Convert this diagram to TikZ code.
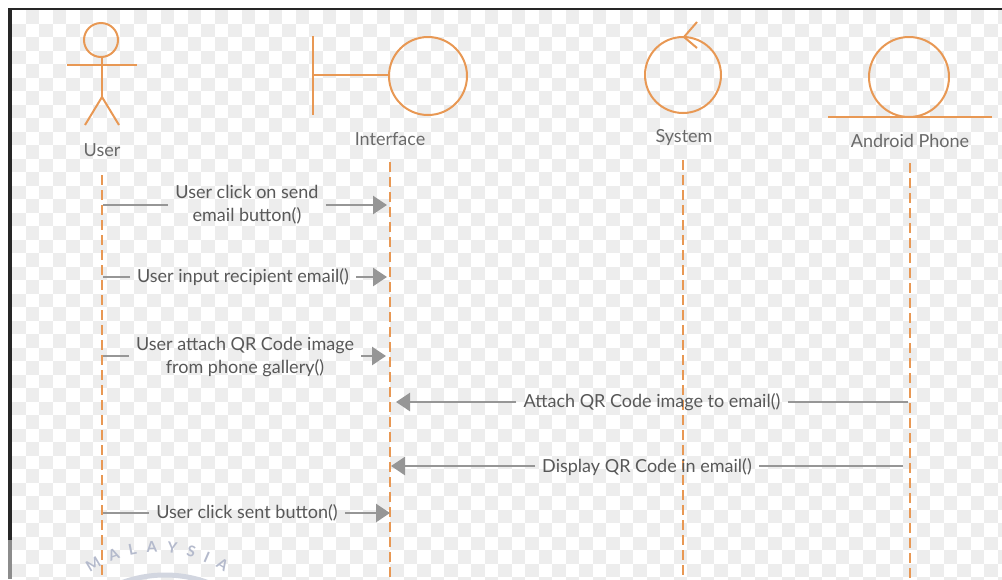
\documentclass[tikz,border=0pt]{standalone}
\usepackage{fontspec}
\setmainfont{Lato}
\usetikzlibrary{arrows.meta,decorations.text}
\definecolor{org}{RGB}{232,152,84}
\definecolor{arr}{RGB}{150,150,150}
\definecolor{txt}{RGB}{88,88,88}
\definecolor{chk}{RGB}{237,237,237}
\definecolor{wmk}{RGB}{180,186,204}
\begin{document}
\begin{tikzpicture}[x=1pt,y=-1pt,
  font=\fontsize{18}{23}\selectfont,
  actor/.style={draw=org,line width=2pt},
  life/.style={draw=org,line width=1.8pt,dash pattern=on 10pt off 5pt},
  msg/.style={draw=arr,line width=2.6pt},
  msgarrow/.style={msg,-{Triangle[length=14pt,width=18pt]}},
  lbl/.style={text=txt,align=center,inner xsep=7pt,inner ysep=1pt},
  head/.style={text=txt!90!white,inner sep=1pt}]
% background
\useasboundingbox (0,0) rectangle (1002,579);
\fill[white] (0,0) rectangle (1002,579);
\foreach \i in {0,...,73}{
  \foreach \j in {0,...,42}{
    \pgfmathtruncatemacro\chkodd{mod(\i+\j,2)}
    \ifnum\chkodd=1
      \fill[chk] ({12+13.5*\i},{10+13.5*\j}) rectangle ++(13.5,13.5);
    \fi
  }
}
\fill[white] (0,0) rectangle (1002,8);
\fill[white] (0,0) rectangle (8,579);
% screen border
\fill[black!85] (8,8) rectangle (1002,9.5);
\fill[black!85] (8,8) rectangle (12,540);
\fill[black!45] (8,540) rectangle (12,579);
% watermark
\draw[wmk!60!white,line width=5pt] (165,700) ++(245:125) arc (245:295:125);
\path[decorate,decoration={text along path,text align={fit to path},
  text={|\fontsize{15}{15}\bfseries\color{wmk}|MALAYSIA}}]
  (157,672) ++(236:120) arc (236:304:120);
% User actor
\draw[actor] (101,40) circle (17);
\draw[actor] (67,65) -- (137,65);
\draw[actor] (102,57) -- (102,97);
\draw[actor] (85,125) -- (102,97) -- (119,125);
\node[head] (user) at (102,150) {User};
% Interface (boundary)
\draw[actor] (313,36) -- (313,115);
\draw[actor] (313,75) -- (389,75);
\draw[actor] (428,76) circle (39);
\node[head] (iface) at (390,139) {Interface};
% System (control)
\draw[actor] (683,75) circle (38);
\draw[actor] (697,22) -- (684,37) -- (697,48);
\node[head] (sys) at (684,138) {System};
% Android Phone (entity)
\draw[actor] (909,77) circle (40);
\draw[actor] (828,117) -- (992,117);
\node[head] (phone) at (910,141) {Android Phone};
% lifelines
\coordinate (uT) at (102,175);  \coordinate (uB) at (102,579);
\coordinate (iT) at (390,162);  \coordinate (iB) at (390,579);
\coordinate (sT) at (683,160);  \coordinate (sB) at (683,579);
\coordinate (pT) at (910,163);  \coordinate (pB) at (910,579);
\draw[life] (uT) -- (uB);
\draw[life] (iT) -- (iB);
\draw[life] (sT) -- (sB);
\draw[life] (pT) -- (pB);
% message 1
\coordinate (u1) at (103,205); \coordinate (i1) at (387,205);
\node[lbl] (m1) at (247,205) {User click on send\\email button()};
\draw[msg] (u1) -- (u1 -| m1.west);
\draw[msgarrow] (m1.east |- i1) -- (i1);
% message 2
\coordinate (u2) at (103,277); \coordinate (i2) at (387,277);
\node[lbl] (m2) at (243,277) {User input recipient email()};
\draw[msg] (u2) -- (u2 -| m2.west);
\draw[msgarrow] (m2.east |- i2) -- (i2);
% message 3
\coordinate (u3) at (103,356); \coordinate (i3) at (386,356);
\node[lbl] (m3) at (245,357) {User attach QR Code image\\from phone gallery()};
\draw[msg] (u3) -- (u3 -| m3.west);
\draw[msgarrow] (m3.east |- i3) -- (i3);
% message 4
\coordinate (p4) at (908,402); \coordinate (i4) at (396,402);
\node[lbl] (m4) at (652,402) {Attach QR Code image to email()};
\draw[msg] (p4) -- (p4 -| m4.east);
\draw[msgarrow] (m4.west |- i4) -- (i4);
% message 5
\coordinate (p5) at (903,466); \coordinate (i5) at (391,466);
\node[lbl] (m5) at (647,467) {Display QR Code in email()};
\draw[msg] (p5) -- (p5 -| m5.east);
\draw[msgarrow] (m5.west |- i5) -- (i5);
% message 6
\coordinate (u6) at (103,513); \coordinate (i6) at (390,513);
\node[lbl] (m6) at (247,513) {User click sent button()};
\draw[msg] (u6) -- (u6 -| m6.west);
\draw[msgarrow] (m6.east |- i6) -- (i6);
\end{tikzpicture}
\end{document}
